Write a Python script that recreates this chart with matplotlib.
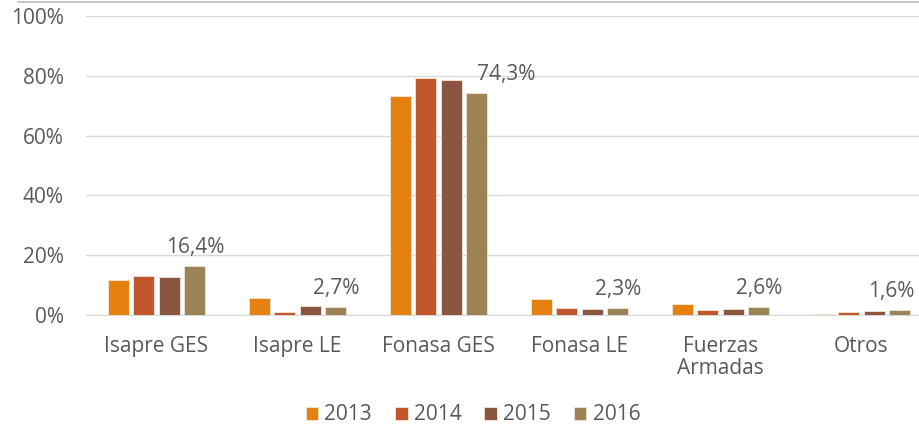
import matplotlib as mpl
mpl.use('Agg')
import matplotlib.pyplot as plt
import numpy as np
from matplotlib.lines import Line2D

plt.rcParams['font.family'] = ['Open Sans', 'DejaVu Sans']

categorias = ['Isapre GES', 'Isapre LE', 'Fonasa GES', 'Fonasa LE', 'Fuerzas\nArmadas', 'Otros']
anios = ['2013', '2014', '2015', '2016']
v2013 = [11.7, 5.6, 73.3, 5.5, 3.7, 0.5]
v2014 = [13.1, 0.9, 79.2, 2.4, 1.6, 1.1]
v2015 = [12.7, 3.1, 78.7, 2.0, 2.1, 1.3]
v2016 = [16.4, 2.7, 74.3, 2.3, 2.6, 1.6]
etiquetas_2016 = ['16,4%', '2,7%', '74,3%', '2,3%', '2,6%', '1,6%']
desplaz = [0, 0, 0.21, 0, 0, -0.06]   # etiquetas corridas (Fonasa GES a la derecha, Otros al borde)
colores = ['#E5820F', '#C0562A', '#8A5641', '#9B8356']

gris = '#595959'
fs = 15
fig = plt.figure(figsize=(9.2, 4.32), dpi=100)
# el area de dibujo sigue mas alla del borde derecho (recortado como en el original)
ax = fig.add_axes([86/920, 1-315/432, 846/920, 299/432])

x = np.arange(len(categorias))
paso = 0.182
ancho = 0.149
series = [v2013, v2014, v2015, v2016]
for i, (vals, c, a) in enumerate(zip(series, colores, anios)):
    ax.bar(x + (i - 1.5)*paso, vals, width=ancho, color=c, label=a,
           edgecolor='#F3E6DA', linewidth=0.6, zorder=3)

for xi, v, t, d in zip(x, v2016, etiquetas_2016, desplaz):
    ax.text(xi + 1.5*paso + d, v + 2.6, t, ha='center', va='bottom', fontsize=fs, color=gris)

ax.set_xlim(-0.5, 5.5)
ax.set_ylim(0, 100)
ax.set_yticks(range(0, 101, 20))
ax.set_yticklabels([f'{v}%' for v in range(0, 101, 20)])
ax.set_xticks(x)
ax.set_xticklabels(categorias, linespacing=1.1)
ax.yaxis.grid(True, color='#D9D9D9', linewidth=1, zorder=0)
ax.tick_params(axis='both', length=0, labelsize=fs, labelcolor=gris)
ax.tick_params(axis='x', pad=15)
ax.tick_params(axis='y', pad=16)
for s in ['top', 'right', 'left']:
    ax.spines[s].set_visible(False)
ax.spines['bottom'].set_color('#D9D9D9')

fig.legend(loc='center', bbox_to_anchor=(473/920, 1-415/432), ncol=4, frameon=False,
           fontsize=fs, labelcolor=gris, handlelength=0.6, handleheight=0.6,
           handletextpad=0.3, columnspacing=1.1)

fig.add_artist(Line2D([18/920, 1], [1-1.5/432, 1-1.5/432], color='#BFBFBF', linewidth=1.2))

fig.savefig('out.png', dpi=100)
